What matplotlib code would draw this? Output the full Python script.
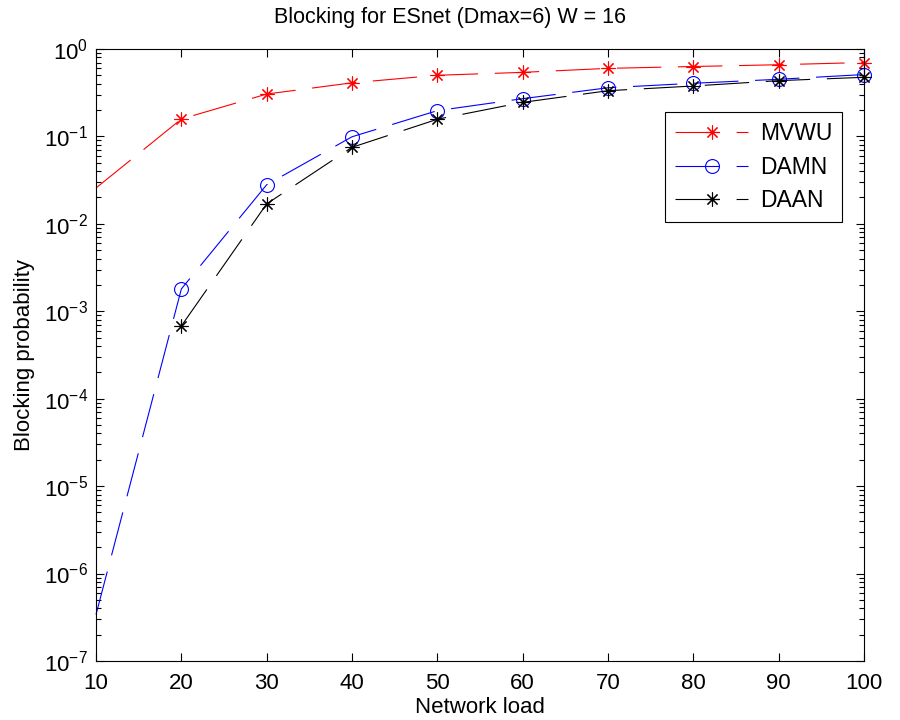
import numpy as np
import matplotlib
matplotlib.use('Agg')
import matplotlib.pyplot as plt
from matplotlib.ticker import FixedLocator, LogLocator, NullFormatter

plt.rcParams['font.family'] = ['Liberation Sans', 'DejaVu Sans']
plt.rcParams['mathtext.fontset'] = 'custom'
plt.rcParams['mathtext.rm'] = 'Liberation Sans'
plt.rcParams['mathtext.it'] = 'Liberation Sans:italic'
plt.rcParams['lines.scale_dashes'] = False

load = [10, 20, 30, 40, 50, 60, 70, 80, 90, 100]
mvwu = [0.0257, 0.158, 0.305, 0.41, 0.50, 0.54, 0.60, 0.63, 0.66, 0.70]
damn = [3.4e-7, 1.8e-3, 0.028, 0.099, 0.197, 0.27, 0.36, 0.405, 0.45, 0.51]
daan = [np.nan, 6.8e-4, 0.0169, 0.075, 0.157, 0.245, 0.333, 0.377, 0.434, 0.474]
decades = [1e-7, 1e-6, 1e-5, 1e-4, 1e-3, 1e-2, 1e-1, 1e0]

fig = plt.figure(figsize=(9, 7.2), dpi=100)
ax = fig.add_axes([0.1067, 0.082, 0.8533, 0.85])

star = (8, 2, 0)
dash = (0, (32, 12))
series = [
    ('MVWU', mvwu, 'r', star, 10),
    ('DAMN', damn, 'b', 'o', 10),
    ('DAAN', daan, 'k', star, 10),
]
for name, vals, c, m, ms in series:
    ax.plot(load, vals, color=c, linestyle=dash, linewidth=0.8,
            marker=m, markersize=ms, markerfacecolor='none',
            markeredgecolor=c, markeredgewidth=0.8,
            markevery=slice(1, None), label=name, clip_on=False)

ax.set_yscale('log')
ax.set_xlim(10, 100)
ax.set_ylim(1e-7, 1e0)
ax.set_xticks(load)
ax.yaxis.set_major_locator(FixedLocator(decades))
ax.yaxis.set_minor_locator(LogLocator(base=10, subs=np.arange(2, 10), numticks=12))
ax.yaxis.set_minor_formatter(NullFormatter())
ax.tick_params(which='both', direction='in', top=True, right=True,
               labelsize=16, width=0.8)
ax.tick_params(which='major', length=6)
ax.tick_params(which='minor', length=3.5)
ax.tick_params(axis='x', pad=9)
ax.tick_params(axis='y', pad=6)
for s in ax.spines.values():
    s.set_linewidth(0.8)

fig.text(0.5, 0.975, 'Blocking for ESnet (Dmax=6) W = 16', fontsize=15.5,
         ha='center', va='center')
ax.set_xlabel('Network load', fontsize=16, labelpad=2)
ax.set_ylabel('Blocking probability', fontsize=16, labelpad=6)

leg = ax.legend(loc='upper right', bbox_to_anchor=(0.972, 0.897),
                fontsize=16.5, handlelength=3.2, handletextpad=0.5,
                borderaxespad=0, borderpad=0.45, labelspacing=0.45,
                fancybox=False, framealpha=1, edgecolor='k')
leg.get_frame().set_linewidth(0.8)

fig.savefig('out.png', dpi=100)
